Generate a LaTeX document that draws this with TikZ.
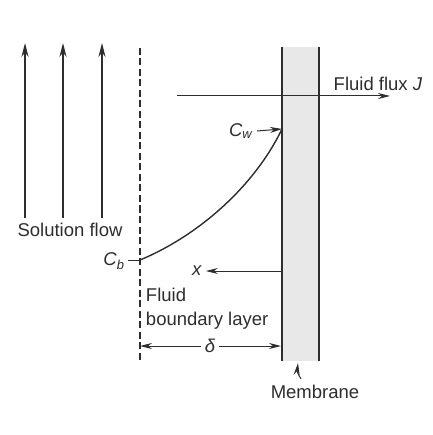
\documentclass[tikz,border=0pt]{standalone}
\usepackage{fontspec}
\setmainfont{Liberation Sans}
\usetikzlibrary{arrows,arrows.meta,positioning}
\definecolor{ink}{RGB}{45,45,45}

\begin{document}
\begin{tikzpicture}[->,>={Stealth[length=14pt,width=7pt]},x=1pt,y=-1pt,
    line width=1.3pt,draw=ink,
    every node/.style={font=\fontsize{18.5}{24}\selectfont,text=ink}]
    \tikzstyle{flow}=[line width=1.4pt]
    \tikzstyle{thin}=[line width=1pt,>={Stealth[length=12pt,width=6pt]}]
    \useasboundingbox (0,0) rectangle (432,435);

    % membrane
    \fill[gray!18] (282,47) rectangle (319,361);
    \draw[-,ink] (282,47) -- (282,361);
    \draw[-,ink] (319,47) -- (319,361);
    % edge of the boundary layer
    \draw[-,ink,line width=1.3pt,dash pattern=on 7pt off 3.5pt] (140,48) -- (140,362);

    % solution flow
    \foreach \xx/\n in {25/1,63/2,102/3} {
      \coordinate (f\n a) at (\xx,218);
      \coordinate (f\n b) at (\xx,43);
      \draw[flow,ink] (f\n a) -- (f\n b);
    }
    \node (sol) at (70,230) {Solution flow};

    % fluid flux
    \coordinate (ja) at (177,96);
    \coordinate (jb) at (390,96);
    \draw[thin,ink] (ja) -- (jb);
    \node (flux) at (378,84) {Fluid flux \textit{J}};

    % concentration profile
    \coordinate (cb0) at (140,260);
    \coordinate (cw0) at (282,129);
    \draw[-,ink,line width=1.4pt] (cb0) .. controls (200,235) and (255,185) .. (cw0);
    \node (cw) at (241,131) {\textit{C}\textsubscript{\textit{w}}};
    \draw[thin,ink] (cw.east) -- (cw0);
    \node (cb) at (114,261) {\textit{C}\textsubscript{\textit{b}}};
    \coordinate (cbt) at (128,260);
    \draw[-,thin,ink] (cbt) -- (cb0);

    % x axis
    \coordinate (x0) at (282,271);
    \node (x) at (197,271) {\textit{x}};
    \draw[thin,ink] (x0) -- (x);

    % boundary layer
    \node[align=left,anchor=west] (bl) at (142,309) {Fluid\\boundary layer};
    \node (delta) at (210,346) {\textit{δ}};
    \coordinate (dl) at (140,346);
    \coordinate (dr) at (281,346);
    \draw[thin,ink] (delta) -- (dl);
    \draw[thin,ink] (delta) -- (dr);

    % membrane label
    \node (mem) at (315,392) {Membrane};
    \coordinate (mp) at (301,379);
    \coordinate (mq) at (298,363);
    \draw[thin,ink] (mp) .. controls (297,372) .. (mq);

  \end{tikzpicture}
\end{document}
